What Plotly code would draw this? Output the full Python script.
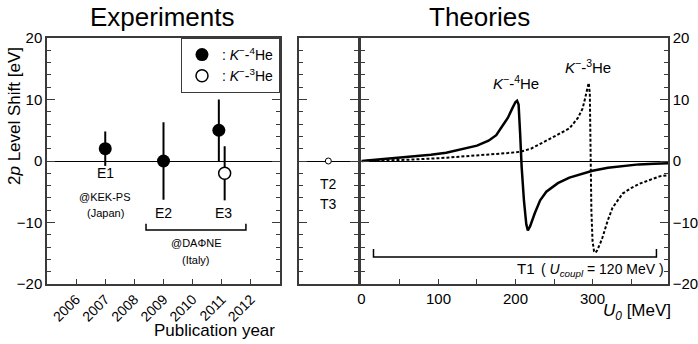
import plotly.graph_objects as go

# experiments: 2p level shift of kaonic helium
exp4_year = [2007, 2009, 2010.9]
exp4_shift = [2.0, 0.0, 5.0]
exp4_err = [2.8, 6.3, 5.0]
exp4_label = ['E1', 'E2', 'E3']
exp3_year = [2011.1]
exp3_shift = [-2.0]
exp3_err = [4.4]
years = [2006, 2007, 2008, 2009, 2010, 2011, 2012]

# T2/T3 (single point, no U0 dependence)
t23_x = [0.5]
t23_y = [0.0]

# T1: shift vs U0 (MeV), U_coupl = 120 MeV
u_4he = [0, 30, 60, 90, 110, 130, 150, 165, 175, 184, 190, 196, 200, 202, 204, 206, 208, 211, 214, 216,
         219, 225, 232, 240, 255, 270, 285, 300, 320, 340, 360, 380, 398]
shift_4he = [0, 0.3, 0.65, 1.0, 1.35, 1.9, 2.5, 3.3, 4.2, 5.9, 7.0, 8.6, 9.6, 9.8, 9.2, 4.5, -1.0, -6.5, -10.3, -11.3,
             -10.6, -8.5, -6.4, -5.0, -3.6, -2.7, -2.1, -1.6, -1.1, -0.8, -0.55, -0.45, -0.35]
u_3he = [0, 30, 60, 100, 130, 160, 190, 206, 220, 240, 255, 270, 281, 287, 290, 293, 295, 296.5, 297, 297.5,
         298.5, 300, 302, 304, 306, 310, 313, 320, 326, 339, 350, 361, 375, 387, 398]
shift_3he = [0, 0.05, 0.2, 0.45, 0.7, 1.0, 1.3, 1.5, 2.0, 3.3, 4.3, 5.3, 7.0, 8.5, 10.0, 11.8, 12.7, 11, 5, 0,
             -8, -13, -14.7, -14.9, -14.5, -13.4, -12.4, -9.6, -7.6, -5.3, -4.4, -3.7, -3.0, -2.5, -2.3]

FONT = 'Liberation Sans'
AX = '#3a3a3a'
K4 = '<i>K</i><sup>−</sup>-<sup>4</sup>He'
K3 = '<i>K</i><sup>−</sup>-<sup>3</sup>He'

fig = go.Figure()

fig.add_trace(go.Scatter(x=exp4_year, y=exp4_shift, mode='markers', name=': ' + K4,
                         marker=dict(size=13, color='black'),
                         error_y=dict(type='data', array=exp4_err, width=0, thickness=2, color='black'),
                         xaxis='x', yaxis='y'))
fig.add_trace(go.Scatter(x=exp3_year, y=exp3_shift, mode='markers', name=': ' + K3,
                         marker=dict(size=12, color='white', line=dict(color='black', width=1.5)),
                         error_y=dict(type='data', array=exp3_err, width=0, thickness=2, color='black'),
                         xaxis='x', yaxis='y'))
fig.add_trace(go.Scatter(x=t23_x, y=t23_y, mode='markers', showlegend=False,
                         marker=dict(size=6, color='white', line=dict(color='black', width=1)),
                         xaxis='x2', yaxis='y2'))
fig.add_trace(go.Scatter(x=u_4he, y=shift_4he, mode='lines', showlegend=False,
                         line=dict(color='black', width=2.5), xaxis='x3', yaxis='y3'))
fig.add_trace(go.Scatter(x=u_3he, y=shift_3he, mode='lines', showlegend=False,
                         line=dict(color='black', width=2, dash='3px,2px'), xaxis='x3', yaxis='y3'))

yax = dict(range=[-20, 20], tickvals=[-20, -10, 0, 10, 20], ticks='inside', ticklen=8, tickcolor=AX,
           minor=dict(dtick=2, ticks='inside', ticklen=4, tickcolor=AX),
           showline=True, linecolor=AX, linewidth=1.5, mirror='ticks', showgrid=False,
           zeroline=True, zerolinecolor='black', zerolinewidth=1, automargin=False,
           tickfont=dict(size=15, color='black'))

fig.update_layout(
    xaxis=dict(domain=[0, 0.3752], range=[2005, 2013], tickvals=years, ticktext=[str(y) for y in years],
               tickangle=-45, ticks='inside', ticklen=5, tickcolor=AX, showline=True, linecolor=AX,
               linewidth=1.5, mirror=True, showgrid=False, zeroline=False, automargin=False,
               tickfont=dict(size=14, color='black')),
    yaxis=dict(yax, anchor='x'),
    xaxis2=dict(domain=[0.4058, 0.5003], range=[0, 1], showticklabels=False, ticks='', automargin=False,
                showline=True, linecolor=AX, linewidth=1.5, mirror=True, showgrid=False, zeroline=False),
    yaxis2=dict(yax, anchor='x2', showticklabels=False),
    xaxis3=dict(domain=[0.5064, 1], range=[0, 398], tickvals=[0, 50, 100, 150, 200, 250, 300, 350],
                ticktext=['0', '', '100', '', '200', '', '300', ''], automargin=False,
                ticks='inside', ticklen=5, tickcolor=AX, showline=True, linecolor=AX, linewidth=1.5,
                mirror=True, showgrid=False, zeroline=False, tickfont=dict(size=15, color='black')),
    yaxis3=dict(yax, anchor='x3', side='right'),
    width=698, height=344, autosize=False,
    margin=dict(l=47, r=30, t=38, b=60),
    plot_bgcolor='white', paper_bgcolor='white',
    font=dict(family=FONT, color='black'),
    showlegend=True,
    legend=dict(x=0.3752, xanchor='right', y=1, yanchor='top', bordercolor=AX, borderwidth=1,
                bgcolor='white', font=dict(size=14), itemwidth=30, tracegroupgap=0),
)

ann = []


def txt(x, y, s, size=14, xref='x', yref='y', xanchor='center', yanchor='middle', **kw):
    ann.append(dict(x=x, y=y, text=s, xref=xref, yref=yref, showarrow=False,
                    xanchor=xanchor, yanchor=yanchor,
                    font=dict(family=FONT, size=size, color='black'), **kw))


def px(x, y):
    # page pixel -> paper coords (plot area 47..668 x 38..284)
    return (x - 47) / 621, (284 - y) / 246


# titles and axis titles
txt(*px(162, 17), 'Experiments', size=26, xref='paper', yref='paper')
txt(*px(479, 17), 'Theories', size=26, xref='paper', yref='paper')
txt(*px(15, 116), '2<i>p</i> Level Shift [eV]', size=17, xref='paper', yref='paper', textangle=-90)
txt(*px(277, 330), 'Publication year', size=17, xref='paper', yref='paper', xanchor='right')
txt(*px(673, 312), '<i>U</i><sub><i>0</i></sub> [MeV]', size=17, xref='paper', yref='paper',
    xanchor='right')

# experiment labels
txt(exp4_year[0], -1.9, exp4_label[0])
txt(exp4_year[1], -8.4, exp4_label[1])
txt(2011.05, -8.4, exp4_label[2])
txt(2007, -5.9, '@KEK-PS', size=11)
txt(2007, -8.5, '(Japan)', size=11)
txt(2010.13, -13.4, '@DAΦNE', size=11)
txt(2010.13, -16.1, '(Italy)', size=11)

# theory labels
txt(0.5, -3.7, 'T2', xref='x2', yref='y2')
txt(0.5, -7.0, 'T3', xref='x2', yref='y2')
txt(200, 12.7, K4, size=15, xref='x3', yref='y3')
txt(293.6, 15.3, K3, size=15, xref='x3', yref='y3')
txt(214, -17.5, 'T1', size=15, xref='x3', yref='y3')
txt(396, -17.8, '( <i>U</i><sub><i>coupl</i></sub> = 120 MeV )', size=14, xref='x3', yref='y3', xanchor='right')

fig.update_layout(annotations=ann)

# brackets
fig.add_shape(type='path', path='M 2008.4,-10.2 L 2008.4,-11.2 L 2011.83,-11.2 L 2011.83,-10.2',
              xref='x', yref='y', line=dict(color='black', width=1.5))
fig.add_shape(type='path', path='M 15.6,-14.3 L 15.6,-15.6 L 383,-15.6 L 383,-14.3',
              xref='x3', yref='y3', line=dict(color='black', width=1.5))

# drop the default 8px body margin so the 698x344 figure fills the window exactly
fig.write_html("out.html", config={'displayModeBar': False},
               post_script="document.body.style.margin='0';")
